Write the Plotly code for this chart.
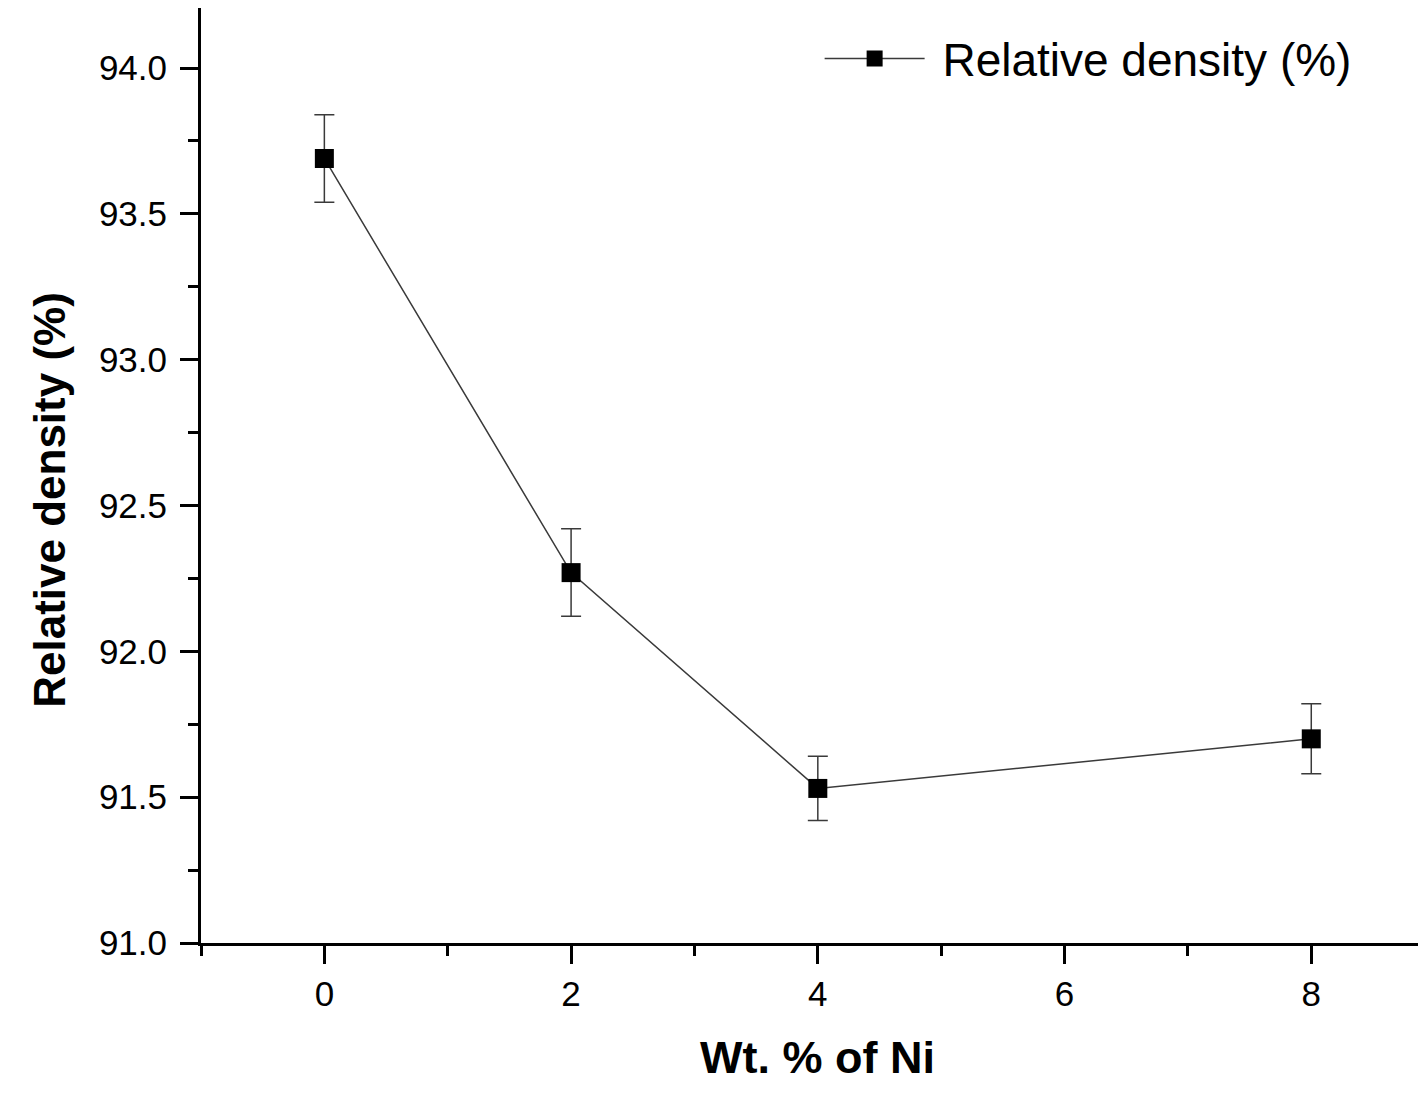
import plotly.graph_objects as go

wt_ni = [0, 2, 4, 8]
rel_density = [93.69, 92.27, 91.53, 91.70]
err = [0.15, 0.15, 0.11, 0.12]

x_tickvals = [0, 2, 4, 6, 8]
y_tickvals = [91.0, 91.5, 92.0, 92.5, 93.0, 93.5, 94.0]
y_ticktext = ["91.0", "91.5", "92.0", "92.5", "93.0", "93.5", "94.0"]

FONT = "Liberation Sans, Arial, sans-serif"

fig = go.Figure()
fig.add_trace(go.Scatter(
    x=wt_ni, y=rel_density,
    mode="lines+markers",
    name="\u00a0Relative density (%)",
    line=dict(color="#3a3a3a", width=1.5),
    marker=dict(symbol="square", size=19, color="black"),
    error_y=dict(type="data", array=err, visible=True, color="#3a3a3a", thickness=1.5, width=10),
))

fig.update_layout(
    width=1418, height=1093,
    margin=dict(l=193, r=0, t=0, b=158),
    paper_bgcolor="white", plot_bgcolor="white",
    font=dict(family=FONT, color="black", size=35),
    showlegend=True,
    legend=dict(
        x=0.505, xanchor="left", y=0.985, yanchor="top",
        font=dict(family=FONT, size=46, color="black"),
        bgcolor="rgba(0,0,0,0)", itemwidth=100,
    ),
    xaxis=dict(
        range=[-1, 8.93], tickvals=x_tickvals,
        showline=True, linecolor="black", linewidth=3,
        ticks="outside", ticklen=18, tickwidth=3, tickcolor="black",
        minor=dict(dtick=1, ticks="outside", ticklen=10, tickwidth=3, tickcolor="black"),
        showgrid=False, zeroline=False,
        tickfont=dict(family=FONT, size=35, color="black"),
    ),
    yaxis=dict(
        range=[91.0, 94.206], tickvals=y_tickvals, ticktext=y_ticktext,
        showline=True, linecolor="black", linewidth=3,
        ticks="outside", ticklen=18, tickwidth=3, tickcolor="black",
        minor=dict(dtick=0.25, tick0=91.0, ticks="outside", ticklen=10, tickwidth=3, tickcolor="black"),
        showgrid=False, zeroline=False, ticklabelstandoff=6,
        tickfont=dict(family=FONT, size=35, color="black"),
    ),
    annotations=[
        dict(text="<b>Wt. % of Ni</b>", xref="paper", yref="paper", x=0.503, y=0,
             xanchor="center", yanchor="middle", yshift=-114, showarrow=False,
             font=dict(family=FONT, size=45, color="black")),
        dict(text="<b>Relative density (%)</b>", xref="paper", yref="paper", x=0, y=0.474,
             xanchor="center", yanchor="middle", xshift=-151, textangle=-90, showarrow=False,
             font=dict(family=FONT, size=44, color="black")),
    ],
)

fig.write_html("out.html")
